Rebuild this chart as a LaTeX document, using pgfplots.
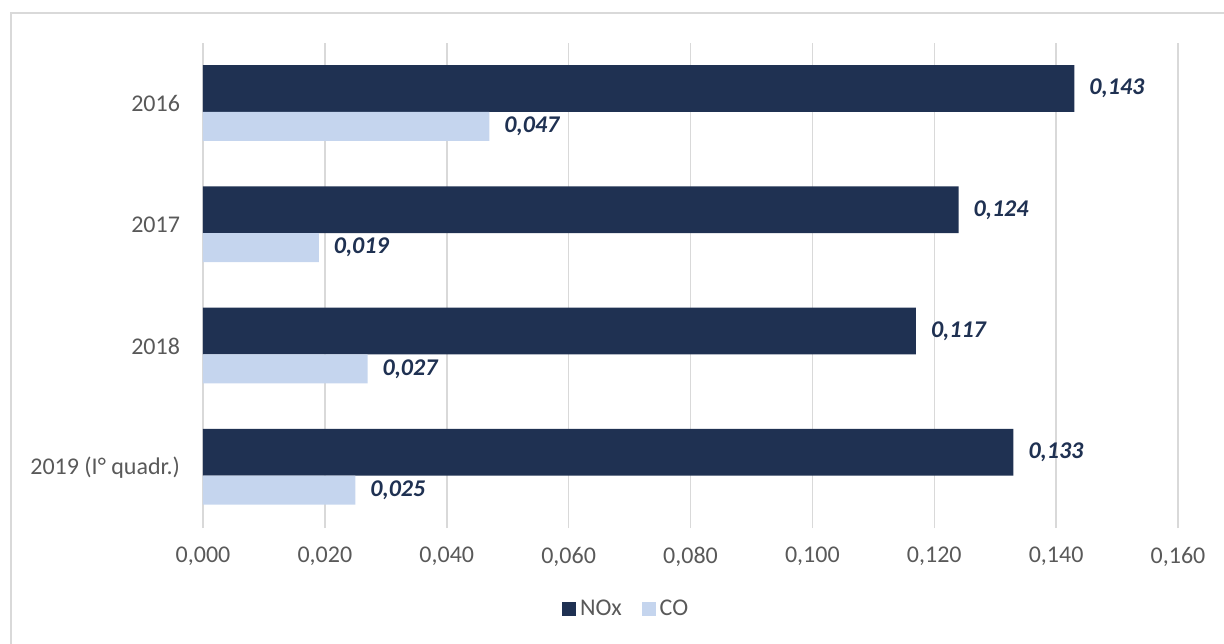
\documentclass[border=0pt]{standalone}
\usepackage{fontspec}
\setmainfont{Carlito}
\usepackage{pgfplots}
\pgfplotsset{compat=1.18}
\definecolor{nox}{HTML}{1F3152}
\definecolor{co}{HTML}{C5D5EE}
\definecolor{lab}{HTML}{1F3152}
\definecolor{tickgray}{HTML}{595959}
\definecolor{gridgray}{HTML}{D9D9D9}
\definecolor{framegray}{HTML}{D9D9D9}
\begin{document}
\begin{tikzpicture}
\path[use as bounding box] (-101.5pt,-57.5pt) rectangle (510.5pt,264pt);
\draw[framegray, line width=1pt] (-96pt,-60pt) -- (-96pt,257.5pt) -- (515pt,257.5pt);
\begin{axis}[
  at={(0pt,0pt)}, anchor=south west,
  scale only axis,
  width=487.5pt, height=242.5pt,
  xmin=0, xmax=0.16,
  ymin=-0.5, ymax=3.5,
  xtick={0,0.02,...,0.16},
  ytick={0,1,2,3},
  yticklabels={2019 (I° quadr.),2018,2017,2016},
  axis line style={draw=none},
  major tick length=0pt,
  xmajorgrids=true,
  grid style={gridgray, line width=0.75pt},
  font=\fontsize{12}{14}\selectfont,
  tick label style={font=\fontsize{12}{14}\selectfont, text=tickgray},
  xticklabel style={yshift=-6pt},
  yticklabel style={xshift=-8pt},
  /pgf/number format/.cd, fixed, fixed zerofill, precision=3, use comma, assume math mode=true,
  /pgfplots/.cd,
  scaled x ticks=false,
  xbar,
  nodes near coords,
  nodes near coords style={font=\fontsize{12}{14}\selectfont\bfseries\itshape, text=lab, anchor=west, xshift=4pt,
    /pgf/number format/.cd, fixed, fixed zerofill, precision=3, use comma, assume math mode=true},
  legend style={at={(0.435,-0.167)}, anchor=center, draw=none, legend columns=2,
    font=\fontsize{12}{14}\selectfont, text=tickgray,
    /tikz/every even column/.append style={column sep=8pt}},
  legend image code/.code={\fill[#1] (0pt,-3.5pt) rectangle (7pt,3.5pt);},
  clip=false,
]
\addplot[draw=none, fill=nox, bar width=0.387, bar shift=0.1245] coordinates {
  (0.143,3) (0.124,2) (0.117,1) (0.133,0)
};
\addlegendentry{NOx}
\addplot[draw=none, fill=co, bar width=0.239, bar shift=-0.1885] coordinates {
  (0.047,3) (0.019,2) (0.027,1) (0.025,0)
};
\addlegendentry{CO}
\end{axis}
\end{tikzpicture}
\end{document}
